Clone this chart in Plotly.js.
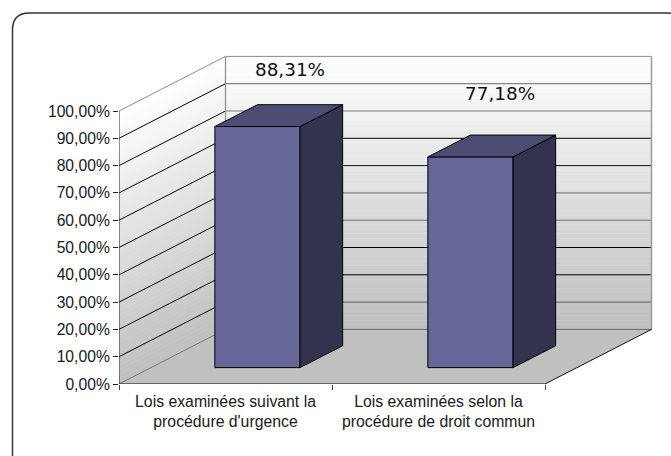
<!DOCTYPE html>
<html><head><meta charset="utf-8">
<script src="https://cdn.plot.ly/plotly-3.0.1.min.js"></script>
<style>html,body{margin:0;padding:0;background:#fff;overflow:hidden}</style>
</head><body><div id="chart" style="width:671px;height:456px"></div>
<script>
// Data
const categories = ["Lois examinées suivant la<br>procédure d'urgence", "Lois examinées selon la<br>procédure de droit commun"];
const values = [88.31, 77.18];
const valueLabels = ["88,31%", "77,18%"];
const yTickValues = [0,10,20,30,40,50,60,70,80,90,100];
const yTickLabels = ["0,00%","10,00%","20,00%","30,00%","40,00%","50,00%","60,00%","70,00%","80,00%","90,00%","100,00%"];

// Oblique projection
const W=671,H=456,L=119,T=54,R=654,B=384;
const PXY=2.73, PXX=213;
const yTop=(B-T)/PXY, xMin=-0.5, xMax=xMin+(R-L)/PXX;
const DX=0.5, DY=20;           // wall depth in axis units
const z0=0.3, z1=0.7;          // bar position within depth
const xEnd=1.5;
const barWidth=0.4;
const backColors=["#6a6a6a","#606060","#000","#000","#707070","#6a6a6a","#111","#000","#7a7a7a","#6a6a6a","#8c8c8c"];
const sideColors=["#777","#000","#000","#000","#000","#000","#000","#000","#000","#000","#8c8c8c"];
const labelNudgeX=[0.153,0.139], labelNudgeY=[26.34,28.68];

const shapes=[];
const gray=t=>{const c=Math.round(255-64*t);return `rgb(${c},${c},${c})`;};
function poly(pts,fill,lineColor,lw){
  shapes.push({type:'path',xref:'x',yref:'y',layer:'below',
    path:'M'+pts.map(p=>p[0]+' '+p[1]).join(' L')+' Z',
    fillcolor:fill||'rgba(0,0,0,0)',line:{color:lineColor||fill,width:lw===undefined?0.6:lw}});
}
function seg(a,b,c,w){
  shapes.push({type:'line',xref:'x',yref:'y',layer:'below',x0:a[0],y0:a[1],x1:b[0],y1:b[1],line:{color:c,width:w||1}});
}
// walls with a top-to-bottom shade
const N=60;
for(let i=0;i<N;i++){
  const a=100*i/N,b=100*(i+1)/N,col=gray(1-(a+b)/200);
  poly([[xMin,a],[xMin+DX,a+DY],[xMin+DX,b+DY],[xMin,b]],col);
  poly([[xMin+DX,a+DY],[xEnd+DX,a+DY],[xEnd+DX,b+DY],[xMin+DX,b+DY]],col);
}
// floor
poly([[xMin,0],[xEnd,0],[xEnd+DX,DY],[xMin+DX,DY]],'#c0c0c0','#c0c0c0',0);
// grid
yTickValues.forEach((v,i)=>{
  seg([xMin,v],[xMin+DX,v+DY],sideColors[i]);
  seg([xMin+DX,v+DY],[xEnd+DX,v+DY],backColors[i]);
});
seg([xMin+DX,DY],[xMin+DX,100+DY],'#8c8c8c',1.2);
seg([xEnd+DX,DY],[xEnd+DX,100+DY],'#9a9a9a',1.5);
seg([xEnd,0],[xEnd+DX,DY],'#111',1);
seg([xMin,0],[xMin,100],'#222',1);
seg([xMin,0],[xEnd,0],'#111',1.2);

// rounded outer frame (runs past the right and bottom of the picture)
const px=v=>(v-L)/(R-L), py=v=>(B-v)/(B-T);
const fx0=12.5,fy0=13,fx1=684,fy1=472,rad=17;
const fpath=`M${px(fx0)} ${py(fy0+rad)} Q${px(fx0)} ${py(fy0)} ${px(fx0+rad)} ${py(fy0)} L${px(fx1-rad)} ${py(fy0)} Q${px(fx1)} ${py(fy0)} ${px(fx1)} ${py(fy0+rad)} L${px(fx1)} ${py(fy1-rad)} Q${px(fx1)} ${py(fy1)} ${px(fx1-rad)} ${py(fy1)} L${px(fx0+rad)} ${py(fy1)} Q${px(fx0)} ${py(fy1)} ${px(fx0)} ${py(fy1-rad)} Z`;
shapes.push({type:'path',xref:'paper',yref:'paper',layer:'below',path:fpath,line:{color:'#333',width:1.5},fillcolor:'rgba(0,0,0,0)'});

const barX=values.map((_,i)=>i+z0*DX);
const traces=[{
  type:'bar',x:barX,y:values.map(v=>v),base:values.map(()=>z0*DY),width:barWidth,
  marker:{color:'#666699',line:{color:'#000',width:1}},hoverinfo:'skip',showlegend:false
}];
values.forEach((v,i)=>{
  const xl=barX[i]-barWidth/2,xr=barX[i]+barWidth/2,b=z0*DY,t=v+z0*DY;
  const ddx=(z1-z0)*DX,ddy=(z1-z0)*DY;
  traces.push({type:'scatter',mode:'lines',x:[xr,xr+ddx,xr+ddx,xr,xr],y:[b,b+ddy,t+ddy,t,b],fill:'toself',
    fillcolor:'#333350',line:{color:'#000',width:1},cliponaxis:false,hoverinfo:'skip',showlegend:false});
  traces.push({type:'scatter',mode:'lines',x:[xl,xr,xr+ddx,xl+ddx,xl],y:[t,t,t+ddy,t+ddy,t],fill:'toself',
    fillcolor:'#4d4d73',line:{color:'#000',width:1},cliponaxis:false,hoverinfo:'skip',showlegend:false});
});
traces.push({type:'scatter',mode:'text',x:barX.map((x,i)=>x+labelNudgeX[i]),y:values.map((v,i)=>v+labelNudgeY[i]),
  text:valueLabels,textposition:'middle center',textfont:{family:'DejaVu Sans',size:18.4,color:'#111'},
  cliponaxis:false,hoverinfo:'skip',showlegend:false});

const layout={
  width:W,height:H,margin:{l:L,r:W-R,t:T,b:H-B,pad:0},
  paper_bgcolor:'#fff',plot_bgcolor:'rgba(0,0,0,0)',showlegend:false,shapes:shapes,
  font:{family:'Liberation Sans, Arial, sans-serif',color:'#1a1a1a'},
  xaxis:{type:'linear',range:[xMin,xMax],tickmode:'array',tickvals:[0,1],ticktext:categories,ticks:'',ticklabelstandoff:6,
    tickfont:{size:15.8,color:'#1a1a1a'},showgrid:false,zeroline:false,showline:false,automargin:false,
    minor:{tickmode:'array',tickvals:[-0.5,0.5,1.5],ticks:'outside',ticklen:5,tickwidth:1,tickcolor:'#444',showgrid:false}},
  yaxis:{range:[0,yTop],tickmode:'array',tickvals:yTickValues,ticktext:yTickLabels,ticks:'outside',ticklen:5,tickwidth:1,tickcolor:'#222',
    tickfont:{size:15.7,color:'#1a1a1a'},showgrid:false,zeroline:false,showline:false,automargin:false}
};
Plotly.newPlot('chart',traces,layout,{displayModeBar:false,staticPlot:true});
</script></body></html>
